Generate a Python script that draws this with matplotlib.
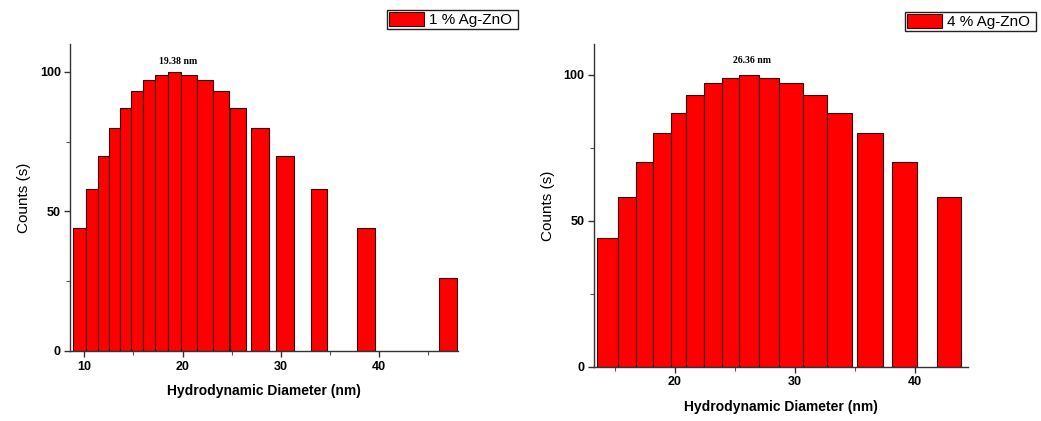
import numpy as np
import matplotlib
matplotlib.use("Agg")
import matplotlib.pyplot as plt
from matplotlib.ticker import MultipleLocator
from matplotlib.patches import Patch

plt.rcParams['font.family'] = ['Liberation Sans', 'DejaVu Sans']

# ---- data (bin edges in nm, counts) ----
left_lo = [8.82, 10.17, 11.42, 12.48, 13.66, 14.75, 15.94, 17.22, 18.48, 19.84,
           21.43, 23.12, 24.82, 26.93, 29.50, 33.03, 37.77, 46.08]
left_hi = [10.17, 11.42, 12.48, 13.66, 14.75, 15.94, 17.22, 18.48, 19.84, 21.43,
           23.12, 24.69, 26.45, 28.76, 31.36, 34.69, 39.60, 47.94]
left_counts = [44, 58, 70, 80, 87, 93, 97, 99, 100, 99, 97, 93, 87, 80, 70, 58, 44, 26]

right_lo = [13.47, 15.27, 16.75, 18.19, 19.67, 20.92, 22.45, 23.89, 25.37, 27.03,
            28.70, 30.70, 32.65, 35.21, 38.13, 41.88]
right_hi = [15.27, 16.75, 18.19, 19.67, 20.92, 22.45, 23.89, 25.37, 27.03, 28.70,
            30.70, 32.65, 34.76, 37.32, 40.16, 43.85]
right_counts = [44, 58, 70, 80, 87, 93, 97, 99, 100, 99, 97, 93, 87, 80, 70, 58]

left_name = "1 % Ag-ZnO "
right_name = "4 % Ag-ZnO "
left_peak = (19.6, 103.9, "19.38 nm")
right_peak = (26.42, 104.9, "26.36 nm")

bar_red = '#ff0000'
bar_edge = '#3a0000'

fig = plt.figure(figsize=(10.41, 4.21), dpi=100)
ax1 = fig.add_axes([0.0677, 0.1663, 0.3725, 0.7292])
ax2 = fig.add_axes([0.5706, 0.1290, 0.3596, 0.7665])


def draw_panel(ax, lo, hi, counts, xlim, ylim, peak):
    lo = np.array(lo)
    hi = np.array(hi)
    ax.bar(lo, counts, width=hi - lo, align='edge', color=bar_red,
           edgecolor=bar_edge, linewidth=0.8, zorder=2)
    ax.set_xlim(*xlim)
    ax.set_ylim(*ylim)
    for s in ['top', 'right']:
        ax.spines[s].set_visible(False)
    for s in ['left', 'bottom']:
        ax.spines[s].set_color('#333333')
        ax.spines[s].set_linewidth(1.0)
    ax.xaxis.set_major_locator(MultipleLocator(10))
    ax.xaxis.set_minor_locator(MultipleLocator(5))
    ax.yaxis.set_major_locator(MultipleLocator(50))
    ax.yaxis.set_minor_locator(MultipleLocator(25))
    ax.tick_params(which='major', direction='out', length=4, width=1,
                   color='#333333', labelsize=9, pad=3)
    ax.tick_params(which='minor', direction='out', length=3, width=0.8,
                   color='#555555')
    for lab in ax.get_xticklabels() + ax.get_yticklabels():
        lab.set_fontweight('bold')
    ax.set_xlabel("Hydrodynamic Diameter (nm)", fontsize=10, fontweight='bold',
                  labelpad=8)
    ax.set_ylabel("Counts (s)", fontsize=11, labelpad=6)
    ax.text(peak[0], peak[1], peak[2], ha='center', va='center',
            fontsize=7, fontweight='bold', family='Liberation Serif')


draw_panel(ax1, left_lo, left_hi, left_counts, (8.6, 48.05), (0, 110), left_peak)
draw_panel(ax2, right_lo, right_hi, right_counts, (13.24, 44.46), (0, 110.5), right_peak)

for ax, name, anchor in [(ax1, left_name, (0.3715, 0.977)),
                         (ax2, right_name, (0.8693, 0.972))]:
    h = Patch(facecolor=bar_red, edgecolor=bar_edge, linewidth=0.8)
    leg = ax.legend([h], [name], loc='upper left', bbox_to_anchor=anchor,
                    bbox_transform=fig.transFigure, fontsize=11,
                    handlelength=2.3, handleheight=1.1, handletextpad=0.35,
                    borderpad=0.12, borderaxespad=0, fancybox=False,
                    framealpha=1, edgecolor='#222222')
    leg.get_frame().set_linewidth(1.0)

fig.savefig("out.png", dpi=100)
